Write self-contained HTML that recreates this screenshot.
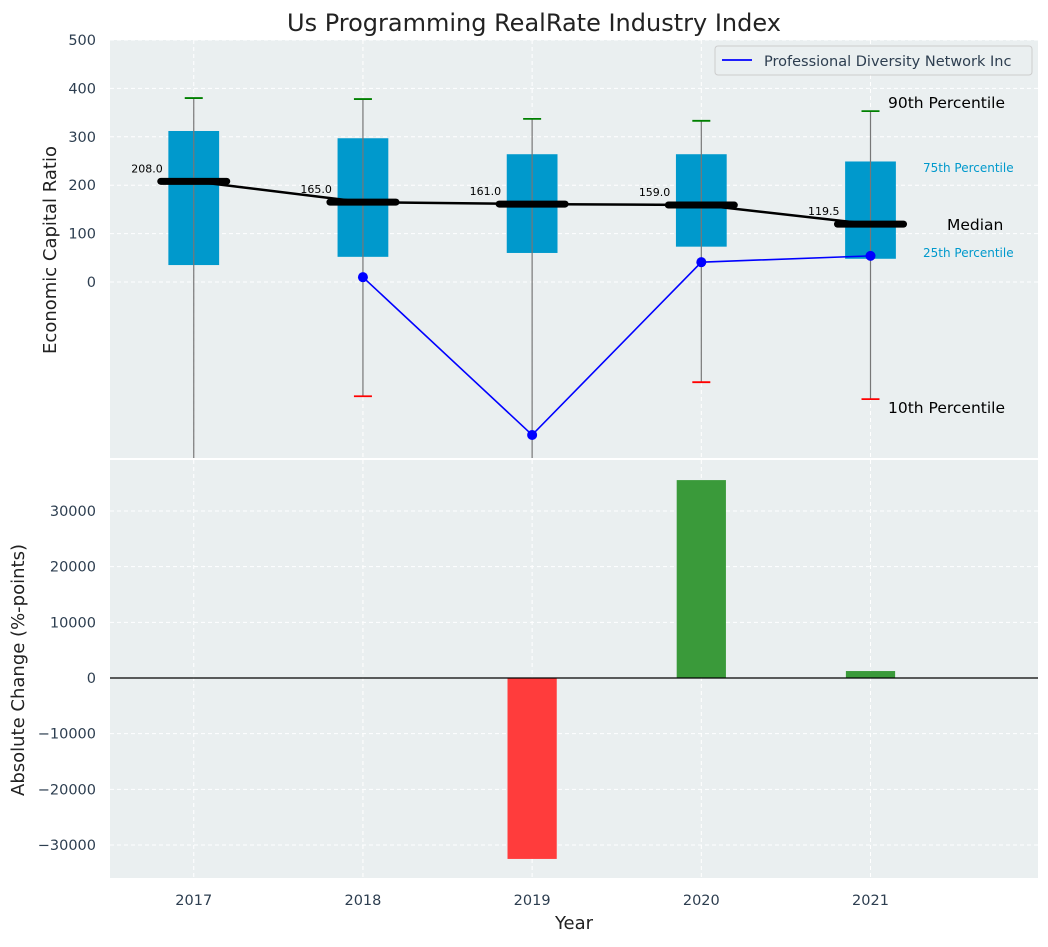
<!DOCTYPE html>
<html><head><meta charset="utf-8"><style>
body{margin:0;background:#fff;}
svg text{font-family:"DejaVu Sans","Liberation Sans",sans-serif;}
</style></head><body>
<svg id="chart" width="1048" height="942" xmlns="http://www.w3.org/2000/svg"></svg>
<script>
const years=[2017,2018,2019,2020,2021];
const q25=[35,52,60,73,48];
const q75=[312,297,264,264,249];
const p90=[380,378,337,333,353];
const p10=[-420,-236,-420,-207,-242];
const medians=[208,165,161,159,119.5];
const company=[null,10,-316,41,54];
const changes=[0,0,-32500,35550,1250];
const topTicks=[0,100,200,300,400,500];
const botTicks=[-30000,-20000,-10000,0,10000,20000,30000];

const NS="http://www.w3.org/2000/svg";
const svg=document.getElementById('chart');
function el(t,a,p){const e=document.createElementNS(NS,t);for(const k in a)e.setAttribute(k,a[k]);(p||svg).appendChild(e);return e;}
const L=110,R=1038,T1=40,B1=458,T2=460,B2=878;
const xs=v=>L+(v-2016.505)/(2021.99-2016.505)*(R-L);
const y1=v=>282-v*0.484;
const y2=v=>678-v*0.005567;

let bg=el('rect',{x:L,y:T1,width:R-L,height:B1-T1,fill:'#eaeff0'});

let bg2=el('rect',{x:L,y:T2,width:R-L,height:B2-T2,fill:'#eaeff0'});


years.forEach(y=>{
 el('line',{x1:xs(y),x2:xs(y),y1:T1,y2:B1,stroke:'#fff','stroke-dasharray':'4,3','stroke-width':1});
 el('line',{x1:xs(y),x2:xs(y),y1:T2,y2:B2,stroke:'#fff','stroke-dasharray':'4,3','stroke-width':1});
 const t=el('text',{x:xs(y),y:905,'text-anchor':'middle','font-size':14.5,fill:'#2d3e50'});t.textContent=y;
 
});
topTicks.forEach(v=>{
 el('line',{x1:L,x2:R,y1:y1(v),y2:y1(v),stroke:'#fff','stroke-dasharray':'4,3'});
 const t=el('text',{x:96,y:y1(v)+5,'text-anchor':'end','font-size':14.5,fill:'#2d3e50'});t.textContent=v;
 
});
botTicks.forEach(v=>{
 el('line',{x1:L,x2:R,y1:y2(v),y2:y2(v),stroke:'#fff','stroke-dasharray':'4,3'});
 const t=el('text',{x:96,y:y2(v)+5,'text-anchor':'end','font-size':14.5,fill:'#2d3e50'});t.textContent=(v<0?'\u2212'+(-v):v);
 
});

const defs=el('defs',{});
const cp=el('clipPath',{id:'c1'},defs);el('rect',{x:L,y:T1,width:R-L,height:B1-T1},cp);
const g=el('g',{'clip-path':'url(#c1)'});

const bw=(xs(2018)-xs(2017))*0.3;
years.forEach((y,i)=>{
 const x=xs(y);
 const b=el('rect',{x:x-bw/2,y:y1(q75[i]),width:bw,height:y1(q25[i])-y1(q75[i]),fill:'#0099cc'},g);
 
 el('line',{x1:x,x2:x,y1:y1(p90[i]),y2:y1(p10[i]),stroke:'#777','stroke-width':1.2},g);
 el('line',{x1:x-9,x2:x+9,y1:y1(p90[i]),y2:y1(p90[i]),stroke:'green','stroke-width':1.8},g);
 el('line',{x1:x-9,x2:x+9,y1:y1(p10[i]),y2:y1(p10[i]),stroke:'red','stroke-width':1.8},g);
});
let d=medians.map((m,i)=>(i?'L':'M')+xs(years[i])+','+y1(m)).join('');
el('path',{d:d,stroke:'#000','stroke-width':2.5,fill:'none'},g);
years.forEach((y,i)=>{
 const x=xs(y);
 const m=el('line',{x1:x-33,x2:x+33,y1:y1(medians[i]),y2:y1(medians[i]),stroke:'#000','stroke-width':7,'stroke-linecap':'round'},g);
 
 const t=el('text',{x:x-31,y:y1(medians[i])-9,'text-anchor':'end','font-size':11,fill:'#000'},g);t.textContent=medians[i].toFixed(1);
 
});
let pts=[];company.forEach((v,i)=>{if(v!==null)pts.push([xs(years[i]),y1(v)]);});
el('path',{d:pts.map((p,i)=>(i?'L':'M')+p[0]+','+p[1]).join(''),stroke:'blue','stroke-width':1.6,fill:'none'},g);
pts.forEach(p=>{const c=el('circle',{cx:p[0],cy:p[1],r:5,fill:'blue'},g);
 });

function txt(x,y,s,size,col,name){const t=el('text',{x:x,y:y,'font-size':size,fill:col});t.textContent=s;
 }
txt(888,108,'90th Percentile',15.5,'#000','p90-annotation');
txt(923,172,'75th Percentile',12,'#0099cc','p75-annotation');
txt(947,230,'Median',15.5,'#000','median-annotation');
txt(923,257,'25th Percentile',12,'#0099cc','p25-annotation');
txt(888,413,'10th Percentile',15.5,'#000','p10-annotation');

const lg=el('g',{});
el('rect',{x:715,y:46,width:317,height:29,rx:3,fill:'#eaeff0',stroke:'#ccc'},lg);
el('line',{x1:722,x2:752,y1:60,y2:60,stroke:'blue','stroke-width':1.8},lg);
const lt=el('text',{x:764,y:66,'font-size':14.5,fill:'#2d3e50'},lg);lt.textContent='Professional Diversity Network Inc';

const cp2=el('clipPath',{id:'c2'},defs);el('rect',{x:L,y:T2,width:R-L,height:B2-T2},cp2);
const g2=el('g',{'clip-path':'url(#c2)'});
years.forEach((y,i)=>{
 const v=changes[i];if(v===0)return;
 const r=el('rect',{x:xs(y)-bw*0.97/2,y:Math.min(y2(v),y2(0)),width:bw*0.97,height:Math.abs(y2(v)-y2(0)),fill:v>0?'#3a9a3a':'#ff3c3c'},g2);
 
});
el('line',{x1:L,x2:R,y1:y2(0),y2:y2(0),stroke:'#000','stroke-width':1.2});

txt(287,31,'Us Programming RealRate Industry Index',24,'#222','chart-title');
const ya=el('text',{transform:'translate(56,250) rotate(-90)','text-anchor':'middle','font-size':18,fill:'#222'});ya.textContent='Economic Capital Ratio';

const yb=el('text',{transform:'translate(24,670) rotate(-90)','text-anchor':'middle','font-size':18,fill:'#222'});yb.textContent='Absolute Change (%-points)';

const xa=el('text',{x:574,y:929,'text-anchor':'middle','font-size':18,fill:'#222'});xa.textContent='Year';

</script>
</body></html>
